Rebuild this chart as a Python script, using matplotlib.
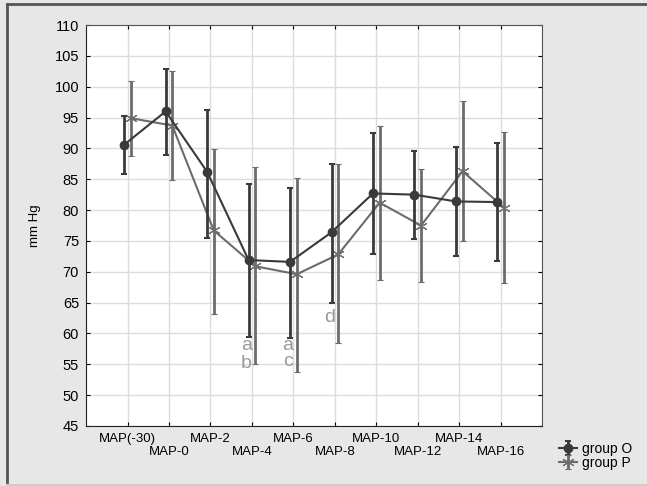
import numpy as np
import matplotlib.pyplot as plt
from matplotlib.lines import Line2D

plt.rcParams['font.family'] = ['Liberation Sans', 'DejaVu Sans']

labels = ['MAP(-30)', 'MAP-0', 'MAP-2', 'MAP-4', 'MAP-6',
          'MAP-8', 'MAP-10', 'MAP-12', 'MAP-14', 'MAP-16']

o_mean = [90.6, 96.0, 86.2, 71.9, 71.6, 76.4, 82.7, 82.5, 81.4, 81.3]
o_high = [95.3, 102.8, 96.3, 84.2, 83.5, 87.5, 92.5, 89.6, 90.2, 90.8]
o_low = [85.9, 89.0, 75.5, 59.4, 59.2, 64.9, 72.9, 75.3, 72.6, 71.8]

p_mean = [94.9, 93.7, 76.7, 70.9, 69.6, 72.8, 81.2, 77.5, 86.3, 80.4]
p_high = [100.9, 102.5, 89.9, 87.0, 85.2, 87.4, 93.7, 86.7, 97.7, 92.6]
p_low = [88.8, 84.8, 63.1, 55.1, 53.8, 58.4, 68.6, 68.3, 75.0, 68.1]

# significance letters: (x position, y value, text)
notes = [(4, 58.0, 'a'), (4, 55.2, 'b'), (5, 58.0, 'a'), (5, 55.4, 'c'), (6, 62.6, 'd')]

dark = '#3a3a3a'
grey = '#6c6c6c'
bg = '#e6e7e6'

fig = plt.figure(figsize=(6.47, 4.86), dpi=100, facecolor=bg)
ax = fig.add_axes([0.133, 0.1235, 0.705, 0.825])
ax.set_facecolor('white')

x = np.arange(1, len(labels) + 1)
xo = x - 0.08
xp = x + 0.08

o_mean = np.array(o_mean)
p_mean = np.array(p_mean)
o_err = [o_mean - np.array(o_low), np.array(o_high) - o_mean]
p_err = [p_mean - np.array(p_low), np.array(p_high) - p_mean]

eo = ax.errorbar(xo, o_mean, yerr=o_err, color=dark, marker='o', ms=6,
                 lw=1.5, elinewidth=2, capsize=2.5, capthick=1.5, zorder=4)
ep = ax.errorbar(xp, p_mean, yerr=p_err, color=grey, marker=(6, 2, 0), ms=9,
                 mew=0.8, lw=1.5, elinewidth=2, capsize=2.5, capthick=1.5, zorder=3)

for i, yv, t in notes:
    ax.text(i - 0.13, yv, t, color='#9a9a9a', fontsize=14, ha='center',
            va='center', family=['Liberation Sans Narrow', 'Liberation Sans'])

ax.set_xlim(0, 11)
ax.set_ylim(45, 110)
ax.set_yticks(np.arange(45, 111, 5))
ax.set_xticks(x)
ax.set_xticklabels(labels, fontsize=9.5)
ax.tick_params(axis='y', labelsize=10.5, direction='in', length=3, right=True, pad=5)
ax.tick_params(axis='x', direction='in', length=3, top=True, pad=5)
# staggered x labels
for k, tick in enumerate(ax.xaxis.get_major_ticks()):
    if k % 2 == 1:
        tick.set_pad(14.5)
ax.grid(True, color='#dcdcdc', lw=1)
ax.set_axisbelow(True)
for s in ['left', 'bottom']:
    ax.spines[s].set_color('#222222')
for s in ['top', 'right']:
    ax.spines[s].set_color('#555555')
ax.set_ylabel('mm Hg', fontsize=9.5, labelpad=10)

# outer frame
fig.add_artist(Line2D([7 / 647, 7 / 647], [0.004, 1 - 4 / 486], color='#555555', lw=2,
                      transform=fig.transFigure))
fig.add_artist(Line2D([7 / 647, 1], [1 - 4 / 486, 1 - 4 / 486], color='#555555', lw=2,
                      transform=fig.transFigure))
fig.add_artist(Line2D([7 / 647, 1], [0.003, 0.003], color='#cccccc', lw=1.5,
                      transform=fig.transFigure))

leg = ax.legend([eo, ep], ['group O', 'group P'], loc='upper left',
                bbox_to_anchor=(553 / 647, 1 - 436 / 486), bbox_transform=fig.transFigure,
                frameon=False, fontsize=10, handlelength=1.3, handletextpad=0.4,
                labelspacing=0.05, borderaxespad=0)

fig.savefig('out.png', dpi=100, facecolor=bg)
